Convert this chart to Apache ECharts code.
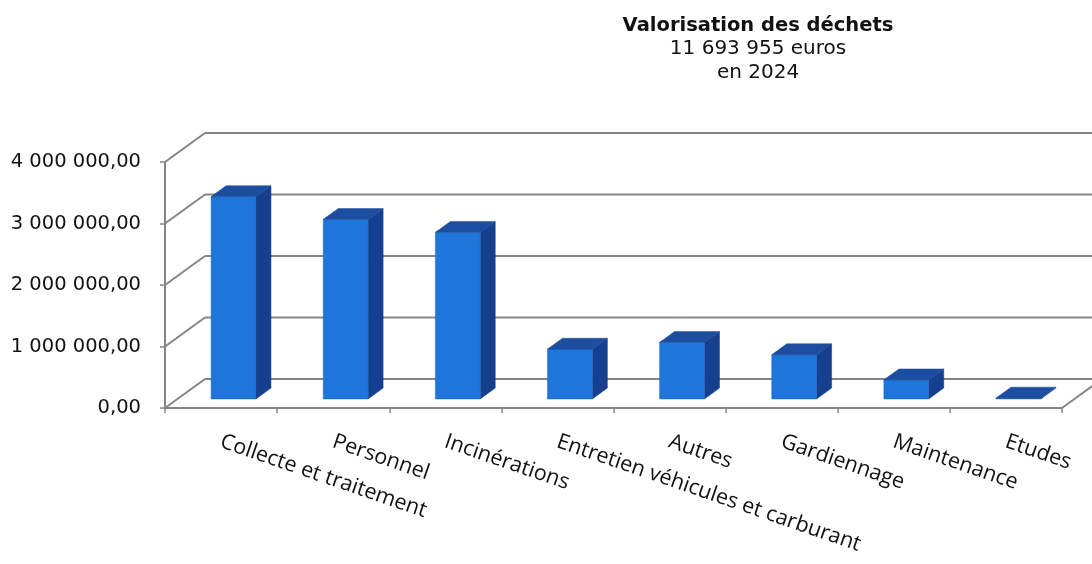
<!DOCTYPE html>
<html>
<head>
<meta charset="utf-8">
<script src="https://cdn.jsdelivr.net/npm/echarts@6/dist/echarts.min.js"></script>
<style>
  html, body { margin: 0; padding: 0; background: #ffffff; }
  #chart { width: 1092px; height: 564px; }
</style>
</head>
<body>
<div id="chart"></div>
<script>
// ---- data ----
const titleLines = ['Valorisation des déchets', '11 693 955 euros', 'en 2024'];
const categories = ['Collecte et traitement', 'Personnel', 'Incinérations', 'Entretien véhicules et carburant', 'Autres', 'Gardiennage', 'Maintenance', 'Etudes'];
const values = [3290000, 2920000, 2710000, 810000, 920000, 720000, 310000, 15000];
const yTicks = [0, 1000000, 2000000, 3000000, 4000000];
const yTickLabels = ['0,00', '1 000 000,00', '2 000 000,00', '3 000 000,00', '4 000 000,00'];

// ---- pseudo 3D style ----
const DX = 40, DY = -29;           // floor depth vector
const F1 = 0.3125, F2 = 0.6875;    // bar front / back depth fractions
const BAR_RATIO = 0.4;
const GRID_COLOR = '#858585';
const FRONT = '#1e76da', SIDE = '#173f8f', TOP = '#1d4d9e';

const chart = echarts.init(document.getElementById('chart'), null, { renderer: 'canvas' });

function renderWall(params, api) {
  const v = api.value(1);
  const p = api.coord([0, v]);
  const band = api.size([1, 0])[0];
  const x0 = p[0] - band / 2;
  const xe = api.coord([categories.length - 1, v])[0] + band / 2;
  const st = { stroke: GRID_COLOR, lineWidth: 2 };
  const children = [
    { type: 'line', shape: { x1: x0, y1: p[1], x2: x0 + DX, y2: p[1] + DY }, style: st },
    { type: 'line', shape: { x1: x0 + DX, y1: p[1] + DY, x2: xe + DX, y2: p[1] + DY }, style: st }
  ];
  if (v === 0) {
    children.push({ type: 'line', shape: { x1: xe, y1: p[1], x2: xe + DX, y2: p[1] + DY }, style: st });
  }
  return { type: 'group', children: children };
}

function renderBar(params, api) {
  const i = api.value(0), v = api.value(1);
  const top = api.coord([i, v]);
  const base = api.coord([i, 0]);
  const band = api.size([1, 0])[0];
  const w = band * BAR_RATIO;
  const fx = DX * F1, fy = DY * F1;
  const dx = DX * (F2 - F1), dy = DY * (F2 - F1);
  const xl = top[0] - w / 2 + fx, xr = top[0] + w / 2 + fx;
  const yt = top[1] + fy, yb = base[1] + fy;
  return {
    type: 'group',
    children: [
      { type: 'polygon', shape: { points: [[xr, yb], [xr, yt], [xr + dx, yt + dy], [xr + dx, yb + dy]] },
        style: { fill: SIDE, stroke: SIDE, lineWidth: 0.5 } },
      { type: 'rect', shape: { x: xl, y: yt, width: w, height: Math.max(yb - yt, 0.01) },
        style: { fill: FRONT, stroke: '#1a62b8', lineWidth: 0.5 } },
      { type: 'polygon', shape: { points: [[xl, yt], [xr, yt], [xr + dx, yt + dy], [xl + dx, yt + dy]] },
        style: { fill: TOP, stroke: TOP, lineWidth: 0.5 } }
    ]
  };
}

const option = {
  backgroundColor: '#ffffff',
  animation: false,
  title: {
    left: 753,
    top: 9,
    textAlign: 'center',
    text: '{b|' + titleLines[0] + '}\n{r|' + titleLines[1] + '}\n{r|' + titleLines[2] + '}',
    textStyle: {
      fontWeight: 'normal',
      rich: {
        b: { fontFamily: 'DejaVu Sans', fontWeight: 'bold', fontSize: 19.5, lineHeight: 23.5, color: '#111111', align: 'center' },
        r: { fontFamily: 'DejaVu Sans', fontWeight: 'normal', fontSize: 20, lineHeight: 23.5, color: '#111111', align: 'center' }
      }
    }
  },
  grid: { left: 165, right: 30, top: 162, bottom: 156, containLabel: false },
  xAxis: {
    type: 'category',
    data: categories,
    boundaryGap: true,
    axisLine: { show: true, lineStyle: { color: GRID_COLOR, width: 2 } },
    axisTick: { show: true, length: 5, lineStyle: { color: GRID_COLOR, width: 1.5 } },
    splitLine: { show: false },
    axisLabel: {
      interval: 0,
      rotate: -19,
      margin: 33,
      fontFamily: 'Open Sans',
      fontSize: 21.5,
      color: '#111111'
    }
  },
  yAxis: {
    type: 'value',
    min: 0,
    max: 4000000,
    interval: 1000000,
    axisLine: { show: true, lineStyle: { color: GRID_COLOR, width: 2 } },
    axisTick: { show: true, length: 5, lineStyle: { color: GRID_COLOR, width: 1.5 } },
    splitLine: { show: false },
    axisLabel: {
      margin: 24,
      fontFamily: 'DejaVu Sans',
      fontSize: 19.5,
      color: '#111111',
      formatter: function (v) { return yTickLabels[yTicks.indexOf(v)]; }
    }
  },
  series: [
    {
      type: 'custom',
      name: 'walls',
      clip: false,
      silent: true,
      z: 1,
      renderItem: renderWall,
      data: yTicks.map(function (v) { return [0, v]; })
    },
    {
      type: 'custom',
      name: 'Valorisation des déchets',
      clip: false,
      z: 3,
      renderItem: renderBar,
      data: values.map(function (v, i) { return [i, v]; })
    }
  ]
};
chart.setOption(option);
</script>
</body>
</html>
